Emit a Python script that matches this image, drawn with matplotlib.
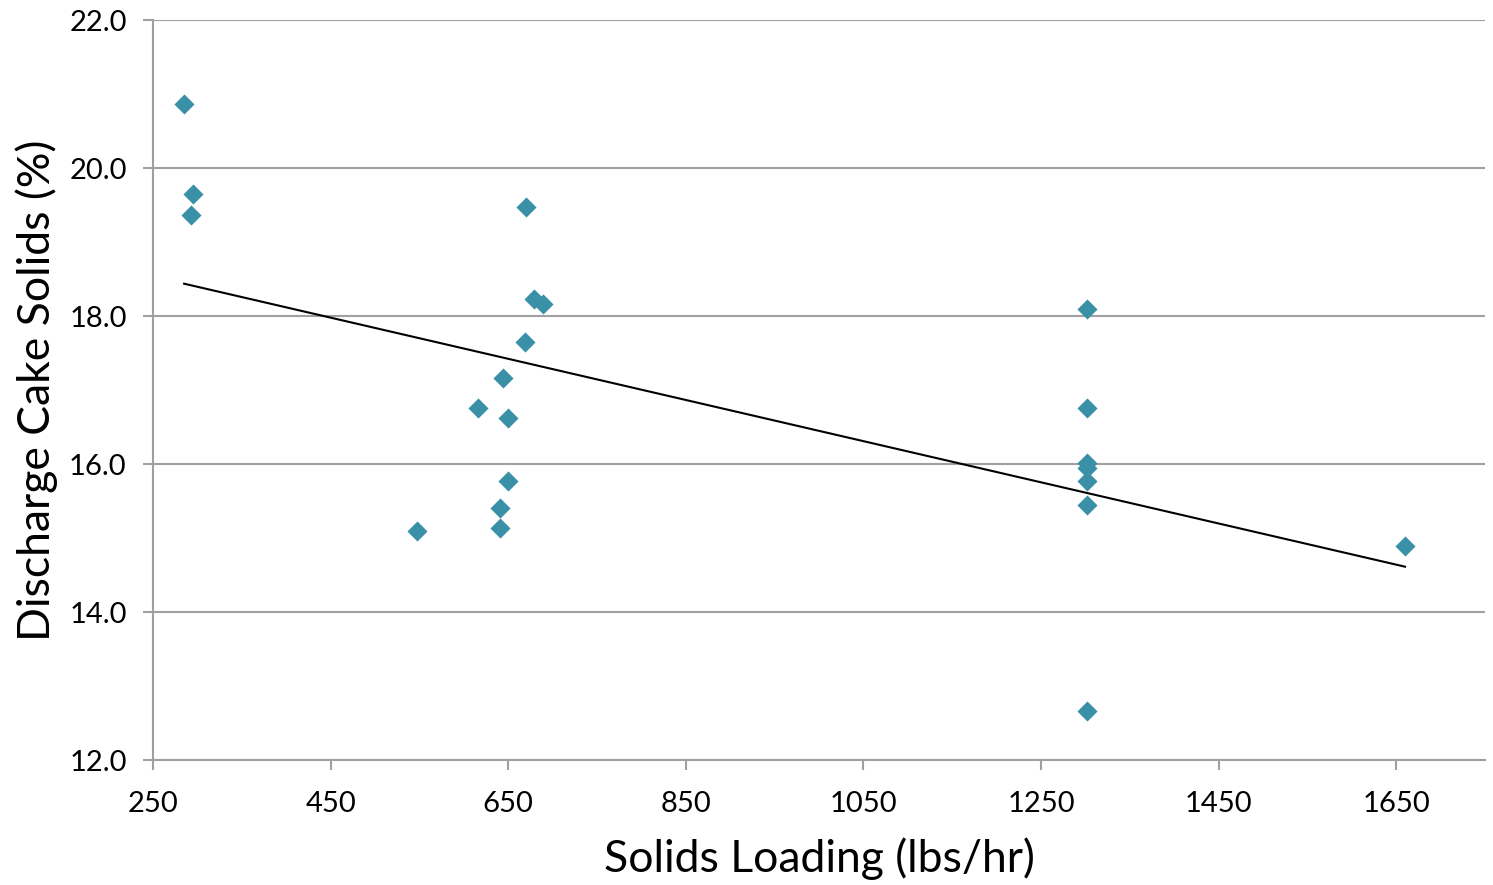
import matplotlib
matplotlib.use("Agg")
import matplotlib.pyplot as plt
import numpy as np

plt.rcParams['font.family'] = ['Lato', 'DejaVu Sans']

solids_loading = [285, 295, 293, 670, 679, 689, 669, 644, 616, 650, 650, 641, 641, 547,
                  1302, 1302, 1302, 1302, 1302, 1302, 1302, 1660]
cake_solids = [20.86, 19.65, 19.36, 19.47, 18.23, 18.16, 17.65, 17.16, 16.76, 16.62, 15.77,
               15.41, 15.14, 15.09, 18.09, 16.76, 16.02, 15.95, 15.77, 15.45, 12.66, 14.89]
x_ticks = [250, 450, 650, 850, 1050, 1250, 1450, 1650]
y_ticks = [12.0, 14.0, 16.0, 18.0, 20.0, 22.0]

fig = plt.figure(figsize=(14.93, 8.85), dpi=100)
ax = fig.add_axes([0.1025, 0.1412, 0.8921, 0.8362])

x = np.array(solids_loading, dtype=float)
y = np.array(cake_solids, dtype=float)
ax.scatter(x, y, marker='D', s=105, color='#3A91A7', zorder=3, linewidths=0)

m, b = np.polyfit(x, y, 1)
xs = np.array([x.min(), x.max()])
ax.plot(xs, m * xs + b, color='black', lw=1.5, zorder=2)

ax.set_xlim(250, 1750)
ax.set_ylim(12, 22)
ax.set_xticks(x_ticks)
ax.set_yticks(y_ticks)
ax.set_yticklabels([f"{v:.1f}" for v in y_ticks])
ax.grid(axis='y', color='#A0A0A0', lw=1.5, zorder=1)
ax.set_axisbelow(True)
for s in ['top', 'right']:
    ax.spines[s].set_visible(False)
for s in ['left', 'bottom']:
    ax.spines[s].set_color('#A0A0A0')
    ax.spines[s].set_linewidth(1.5)
ax.tick_params(axis='both', colors='#A0A0A0', width=1.5, length=7, labelsize=21,
               labelcolor='black')
ax.tick_params(axis='y', pad=12)
ax.tick_params(axis='x', pad=15)
ax.set_xlabel("Solids Loading (lbs/hr)", fontsize=32, labelpad=15)
ax.set_ylabel("Discharge Cake Solids (%)", fontsize=32, labelpad=8)

fig.savefig("out.png", dpi=100)
